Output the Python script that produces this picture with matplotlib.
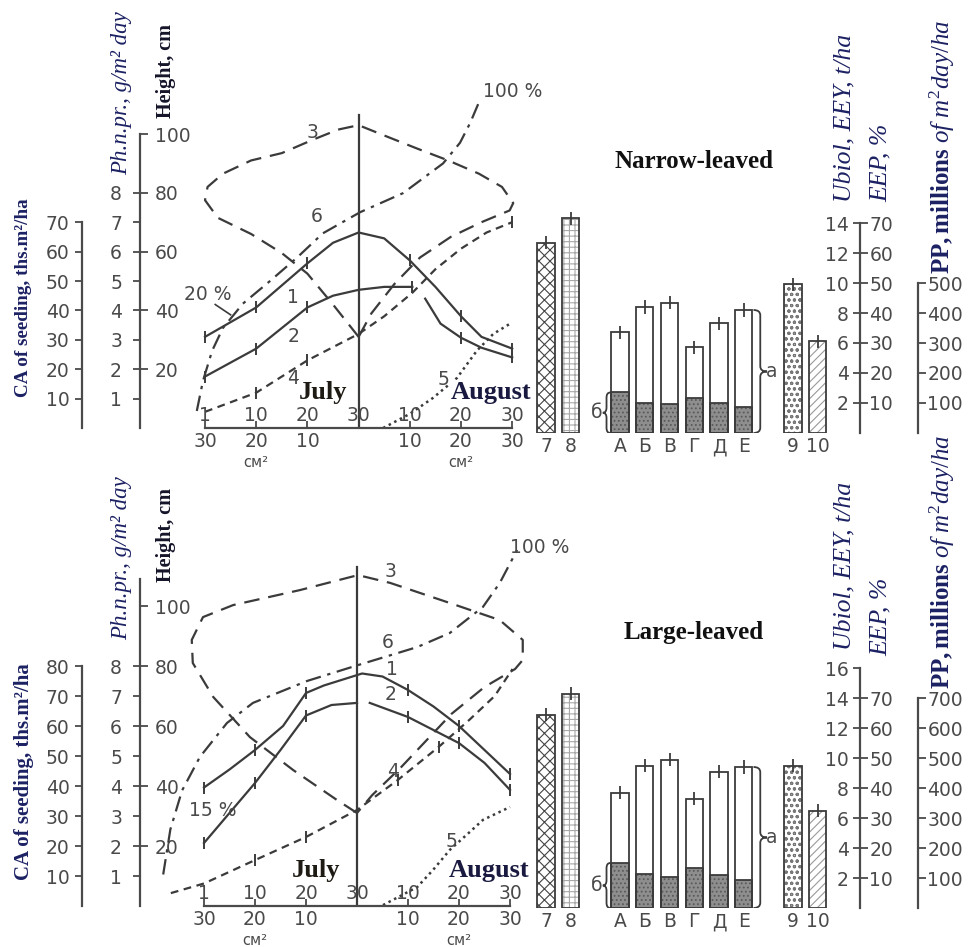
import numpy as np
from matplotlib import pyplot as plt
from matplotlib.path import Path
import matplotlib.patches as mpatches

plt.rcParams['font.family'] = ['DejaVu Sans']
plt.rcParams['mathtext.fontset'] = 'custom'
plt.rcParams['mathtext.rm'] = 'Liberation Serif'
plt.rcParams['mathtext.it'] = 'Liberation Serif:italic'
plt.rcParams['mathtext.bf'] = 'Liberation Serif:bold'
plt.rcParams['hatch.linewidth'] = 0.8

W, H = 969, 947
INK = '#3b3b3b'
GREY = '#4a4a4a'
NAVY = '#1c2163'
SERIF = 'Liberation Serif'
TS = 13.5

# ---------------------------------------------------------------- data
# x of line charts: 0..6 = Jul 1, 10, 20, 30, Aug 10, 20, 30
date_ticks = [0, 1, 2, 3, 4, 5, 6]
date_labels = ['1', '10', '20', '30', '10', '20', '30']
area_labels = ['30', '20', '10', '', '10', '20', '30']

ca_top = [10, 20, 30, 40, 50, 60, 70]
ca_bot = [10, 20, 30, 40, 50, 60, 70, 80]
ph_vals = [1, 2, 3, 4, 5, 6, 7, 8]
height_vals = [20, 40, 60, 80, 100]

ubiol_top = [2, 4, 6, 8, 10, 12, 14]
ubiol_bot = [2, 4, 6, 8, 10, 12, 14, 16]
eep_vals = [10, 20, 30, 40, 50, 60, 70]
pp_top = [100, 200, 300, 400, 500]
pp_bot = [100, 200, 300, 400, 500, 600, 700]

bar_labels = ['7', '8', 'А', 'Б', 'В', 'Г', 'Д', 'Е', '9', '10']
bar_groups = [2, 6, 2]

# narrow-leaved (top)
nar_c1_x = [0, 1, 2, 2.5, 3, 3.5, 4, 4.5, 5, 5.4, 6]
nar_c1_y = [31, 41, 56, 63, 66.5, 64.5, 57, 48, 38, 31, 27]
nar_c2_x = [0, 1, 2, 2.5, 3, 3.5, 4.05, np.nan, 4.3, 4.6, 5, 5.4, 6]
nar_c2_y = [17.5, 27, 41, 45, 47, 48, 48, np.nan, 44, 35.5, 30.7, 27.3, 24]
nar_c3_x = [3, 2.5, 2, 1.5, 0.9, 0.25, 0, 0.05, 0.35, 0.9, 1.5, 2.1, 2.6, 3,
            3.5, 4.15, 4.75, 5.35, 5.8, 6.02, 5.95, 5.4, 4.8, 4.2, 3.7, 3.25, 3]
nar_c3_y = [31, 42, 52.5, 59.5, 66, 71.5, 77.5, 82, 86.5, 91, 93.5, 98, 101.5, 103,
            99.5, 95, 91, 86.5, 82, 76.5, 74, 70, 65, 58, 49, 39, 31]
nar_c4_x = [0, 1, 2, 3, 3.5, 4.05, 4.5, 5, 5.5, 6]
nar_c4_y = [5.5, 12, 23, 32, 38, 46, 54, 61, 66.5, 70]
nar_c5_x = [3.48, 4.0, 4.45, 4.92, 5.31, 5.63, 5.96]
nar_c5_y = [0, 4.8, 10.2, 17, 26.3, 32, 35.5]
nar_c6_x = [-0.16, -0.04, 0.14, 0.35, 0.74, 1.27, 1.8, 2.3, 3.03, 3.87, 4.65, 4.98, 5.18, 5.37]
nar_c6_y = [5.8, 16, 26.3, 34, 42.3, 50, 58, 66.2, 73.4, 79.9, 90, 97, 103.8, 111.6]
nar_divider = [0, 106.5]
nar_bar_total = [12.7, 14.3, 6.7, 8.4, 8.7, 5.7, 7.3, 8.2, 9.9, 6.1]
nar_bar_dark = [2.7, 2.0, 1.9, 2.3, 2.0, 1.7]

# large-leaved (bottom)
lar_c1_x = [0, 0.5, 1, 1.55, 2, 2.35, 3.1, 3.5, 4, 4.5, 5, 5.5, 6]
lar_c1_y = [39.5, 45.5, 52, 60, 71, 73.5, 77.5, 76.5, 72, 66.5, 60, 52, 44]
lar_c2_x = [0, 0.5, 1, 1.5, 2, 2.5, 3.0, np.nan, 3.25, 4, 5, 5.5, 6]
lar_c2_y = [21, 31, 41, 52, 63.5, 67, 67.7, np.nan, 67.7, 63, 54.3, 47.7, 38.7]
lar_c3_x = [3.0, 2.61, 1.75, 0.9, 0.18, -0.22, -0.24, -0.02, 0.57, 1.88, 3.02, 3.65,
            4.82, 5.8, 6.25, 6.25, 6.1, 5.5, 4.85, 4.35, 3.85, 3.3, 3.0]
lar_c3_y = [31, 35.3, 45.3, 56.3, 69.7, 81, 88.7, 96.3, 100.3, 105.3, 110.3, 107.7,
            101, 95.3, 88.7, 82, 79, 73, 64, 55, 46, 37, 31]
lar_c4_x = [-0.65, 0, 1, 2, 3, 3.8, 4.6, 5.2, 5.7, 6.05]
lar_c4_y = [4.3, 7.5, 15.3, 23, 32, 42, 53, 62, 70, 79]
lar_c5_x = [3.51, 4.18, 4.49, 4.82, 5.2, 5.47, 6.0]
lar_c5_y = [0.3, 6.3, 12, 18.7, 24.5, 28.7, 33]
lar_c6_x = [-0.8, -0.66, -0.43, -0.08, 0.45, 0.96, 2.02, 3.02, 4.18, 4.82, 5.47, 5.8, 6.14]
lar_c6_y = [10.5, 25.5, 38.5, 49.7, 61, 67.7, 75, 80.3, 86.3, 91, 99.7, 107.7, 118.7]
lar_divider = [0, 113]
lar_bar_total = [12.9, 14.3, 7.7, 9.5, 9.9, 7.3, 9.1, 9.4, 9.5, 6.5]
lar_bar_dark = [3.0, 2.3, 2.1, 2.7, 2.2, 1.9]

# ---------------------------------------------------------------- helpers
fig = plt.figure(figsize=(W / 100, H / 100), dpi=100)
fig.patch.set_facecolor('white')


def px_axes(x0, y0, x1, y1):
    ax = fig.add_axes([x0 / W, 1 - y1 / H, (x1 - x0) / W, (y1 - y0) / H])
    ax.patch.set_visible(False)
    for s in ax.spines.values():
        s.set_visible(False)
    return ax


def ftext(x, y, s, **kw):
    fig.text(x / W, 1 - y / H, s, ha='center', va='center', **kw)


def vscale(x, top, h0, k, bound):
    ax = px_axes(x, top, x + 1, h0)
    ax.set_ylim(0, (h0 - top) / k)
    ax.set_xticks([])
    ax.set_yticks([])
    ax.spines['left'].set_visible(True)
    ax.spines['left'].set_bounds(0, bound)
    ax.spines['left'].set_color(GREY)
    ax.spines['left'].set_linewidth(1.6)
    return ax


def ticks_left(ax, pos, labels, pad=4):
    ax.set_yticks(pos, labels)
    ax.tick_params(axis='y', left=True, labelleft=True, direction='out', length=5,
                   width=1.3, color=GREY, labelcolor=GREY, labelsize=TS, pad=pad)


def ticks_right(ax, pos, labels, pad=4):
    tw = ax.twinx()
    tw.set_ylim(ax.get_ylim())
    for s in tw.spines.values():
        s.set_visible(False)
    tw.set_yticks(pos, labels)
    tw.tick_params(axis='y', right=True, labelright=True, left=False, labelleft=False,
                   direction='out', length=5, width=1.3, color=GREY, labelcolor=GREY,
                   labelsize=TS, pad=pad)


def line_axes(top, h0, k, x0, kx):
    ax = px_axes(150, top, 548, h0)
    ax.set_xlim((150 - x0) / kx, (548 - x0) / kx)
    ax.set_ylim(0, (h0 - top) / k)
    ax.set_yticks([])
    ax.spines['bottom'].set_visible(True)
    ax.spines['bottom'].set_bounds(0, 6)
    ax.spines['bottom'].set_color(GREY)
    ax.spines['bottom'].set_linewidth(1.6)
    ax.set_xticks(date_ticks, area_labels)
    ax.tick_params(axis='x', direction='in', length=5, width=1.3, color=GREY,
                   labelcolor=GREY, labelsize=TS, pad=3)
    for x, s in zip(date_ticks, date_labels):
        ax.annotate(s, (x, 0), xytext=(0, 3), textcoords='offset pixels',
                    ha='center', va='bottom', fontsize=TS, color=GREY)
    for x in (date_ticks[1], date_ticks[5]):
        ax.annotate('см²', (x, 0), xytext=(0, -27), textcoords='offset pixels',
                    ha='center', va='top', fontsize=10.5, color=GREY)
    return ax


def brace(ax, x, y0, y1, w, c):
    ym = (y0 + y1) / 2
    xm = x + w / 2
    verts = [(x, y1), (xm, y1), (xm, y1 - c), (xm, ym + c), (xm, ym), (x + w, ym),
             (xm, ym), (xm, ym - c), (xm, y0 + c), (xm, y0), (x, y0)]
    codes = [Path.MOVETO, Path.CURVE3, Path.CURVE3, Path.LINETO, Path.CURVE3, Path.CURVE3,
             Path.CURVE3, Path.CURVE3, Path.LINETO, Path.CURVE3, Path.CURVE3]
    ax.add_patch(mpatches.PathPatch(Path(verts, codes), fill=False, edgecolor=INK, lw=1.3))


def draw_curves(ax, c1, c2, c3, c4, c5, c6, m1, m2, m4):
    ax.plot(*c1, color=INK, lw=1.6, marker='|', ms=9, mew=1.4, markevery=m1)
    ax.plot(*c2, color=INK, lw=1.6, marker='|', ms=9, mew=1.4, markevery=m2)
    ax.plot(*c3, color=INK, lw=1.6, dashes=(7, 4))
    ax.plot(*c4, color=INK, lw=1.6, dashes=(3.5, 2.5), marker='|', ms=8, mew=1.4, markevery=m4)
    ax.plot(*c5, color=INK, lw=1.8, dashes=(1, 1.5))
    ax.plot(*c6, color=INK, lw=1.6, dashes=(7, 3, 1.5, 3))


def bar_block(top, h0, totals, darks):
    pos = []
    start = 0
    for n in bar_groups:
        pos += [start + i for i in range(n)]
        start += n + 1
    ax = px_axes(520, top, 850, h0)
    ax.set_xlim((520 - 546) / 24.7, (850 - 546) / 24.7)
    ax.set_ylim(0, (h0 - top) / 15)
    ax.set_yticks([])
    ax.set_xticks(pos, bar_labels)
    ax.tick_params(axis='x', length=0, labelsize=TS, labelcolor=GREY, pad=3)
    hatches = ['xxx', '+++', '', '', '', '', '', '', 'ooo', '////']
    hcolors = ['#444444', '#a8a8a8', INK, INK, INK, INK, INK, INK, '#777777', '#9a9a9a']
    bars = ax.bar(pos, totals, width=0.7, color='white', linewidth=0)
    for b, h, c in zip(bars, hatches, hcolors):
        b.set_hatch(h)
        b.set_edgecolor(c)
    mid = pos[2:8]
    ax.bar(mid, darks, width=0.7, color='#8e8e8e', edgecolor='#5a5a5a', hatch='....', linewidth=0)
    ax.bar(mid, darks, width=0.7, fill=False, edgecolor=INK, linewidth=1.3)
    ax.bar(pos, totals, width=0.7, fill=False, edgecolor=INK, linewidth=1.3)
    ax.errorbar(pos, totals, yerr=0.45, fmt='none', ecolor=INK, elinewidth=1.3, capsize=0)
    brace(ax, mid[0] - 0.4, 0, darks[0], -0.3, 0.35)
    ax.text(mid[0] - 0.95, darks[0] / 2, 'б', ha='center', va='center', fontsize=TS, color=GREY)
    brace(ax, mid[-1] + 0.4, 0, totals[7], 0.55, 0.35)
    ax.text(mid[-1] + 1.15, totals[7] / 2, 'а', ha='center', va='center', fontsize=TS, color=GREY)


def right_scales(top, h0, ubiol, ub_bound, pp, pp_bound):
    ax = vscale(860, top, h0, 15, ub_bound)
    ticks_left(ax, ubiol, ubiol, pad=3)
    ticks_right(ax, [v / 5 for v in eep_vals], eep_vals, pad=1)
    ax = vscale(918, top, h0, 0.3, pp_bound)
    ticks_right(ax, pp, pp, pad=1)


def left_scales(top, h0, k, ca, ph_bound):
    ax = vscale(82, top, h0, k, max(ca))
    ticks_left(ax, ca, ca, pad=4)
    ax = vscale(140, top, h0, k, ph_bound)
    ticks_left(ax, [10 * v for v in ph_vals], ph_vals, pad=8)
    ticks_right(ax, height_vals, height_vals, pad=5)


def curve_labels(ax, pts):
    for s, (x, y) in zip(['1', '2', '3', '4', '5', '6'], pts):
        ax.text(x, y, s, ha='center', va='center', fontsize=TS, color=GREY)


def titles(y_ca, y_ph, y_h, y_name, name, y_ub, y_eep, y_pp, ca_size):
    ftext(24, y_ca, 'CA of seeding, ths.m²/ha', rotation=90, family=SERIF,
          fontweight='bold', fontsize=ca_size, color=NAVY)
    ftext(122, y_ph, 'Ph.n.pr., g/m² day', rotation=90, family=SERIF, style='italic',
          fontsize=16.5, color=NAVY)
    ftext(166, y_h, 'Height, cm', rotation=90, family=SERIF, fontweight='bold',
          fontsize=14.5, color='#15152a')
    ftext(694, y_name, name, family=SERIF, fontweight='bold', fontsize=18, color='#111111')
    ftext(844, y_ub, 'Ubiol, EEY, t/ha', rotation=90, family=SERIF, style='italic',
          fontsize=18.5, color=NAVY)
    ftext(881, y_eep, 'EEP, %', rotation=90, family=SERIF, style='italic',
          fontsize=18.5, color=NAVY)
    ftext(942, y_pp, r'$\mathbf{PP,millions}\ \mathit{of}\ \mathit{m}^{2}\mathit{day/ha}$',
          rotation=90, fontsize=18, color=NAVY)


def months(ax, x_jul, x_aug, h):
    ax.text(x_jul, h, 'July', ha='center', va='center', fontsize=19, fontweight='bold',
            family=SERIF, color='#1e1a14', bbox=dict(fc='white', ec='none', pad=0.5))
    ax.text(x_aug, h, 'August', ha='center', va='center', fontsize=19, fontweight='bold',
            family=SERIF, color='#1a1a40', bbox=dict(fc='white', ec='none', pad=0.5))


# ---------------------------------------------------------------- top panel
left_scales(60, 428, 2.94, ca_top, 100)
ax = line_axes(60, 428, 2.94, 205, 51.2)
ax.plot([date_ticks[3]] * 2, nar_divider, color=INK, lw=1.6)
draw_curves(ax, (nar_c1_x, nar_c1_y), (nar_c2_x, nar_c2_y), (nar_c3_x, nar_c3_y),
            (nar_c4_x, nar_c4_y), (nar_c5_x, nar_c5_y), (nar_c6_x, nar_c6_y),
            [0, 1, 2, 6, 8, 10], [0, 1, 2, 6, 10, 12], [1, 2, 9])
curve_labels(ax, [(1.72, 44.5), (1.72, 31), (2.1, 100.5), (1.72, 17), (4.65, 16.5), (2.19, 72)])
ax.text(0.05, 45.5, '20 %', ha='center', va='center', fontsize=TS, color=GREY)
ax.plot([0.2, 0.5], [42, 38.5], color=INK, lw=1.2)
ax.text(5.43, 114.5, '100 %', ha='left', va='center', fontsize=TS, color=GREY)
months(ax, 2.3, 5.59, 12)
bar_block(180, 433, nar_bar_total, nar_bar_dark)
right_scales(180, 433, ubiol_top, 14, pp_top, 500)
titles(298, 93, 71, 161, 'Narrow-leaved', 118, 163, 147, 13.8)

# ---------------------------------------------------------------- bottom panel
left_scales(540, 906, 3.0, ca_bot, 109)
ax = line_axes(540, 906, 3.0, 204, 51.0)
ax.plot([date_ticks[3]] * 2, lar_divider, color=INK, lw=1.6)
draw_curves(ax, (lar_c1_x, lar_c1_y), (lar_c2_x, lar_c2_y), (lar_c3_x, lar_c3_y),
            (lar_c4_x, lar_c4_y), (lar_c5_x, lar_c5_y), (lar_c6_x, lar_c6_y),
            [0, 2, 4, 8, 10, 12], [0, 2, 4, 9, 10, 12], [2, 3, 5, 6])
curve_labels(ax, [(3.68, 79), (3.65, 70.5), (3.65, 111.5), (3.7, 45), (4.86, 21.5), (3.6, 88)])
ax.text(0.18, 32, '15 %', ha='center', va='center', fontsize=TS, color=GREY)
ax.text(6.0, 119.5, '100 %', ha='left', va='center', fontsize=TS, color=GREY, clip_on=False)
months(ax, 2.2, 5.59, 12)
bar_block(640, 908, lar_bar_total, lar_bar_dark)
right_scales(640, 908, ubiol_bot, 16, pp_bot, 700)
titles(772, 558, 535, 632, 'Large-leaved', 566, 617, 562, 15)

plt.savefig('out.png', dpi=100)
